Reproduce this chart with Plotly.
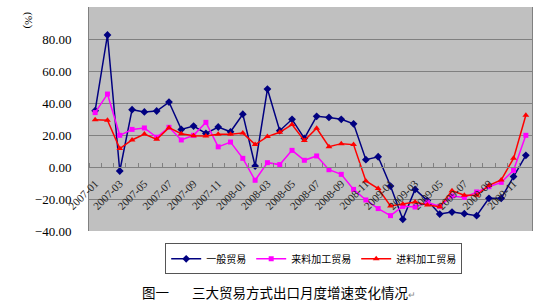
import plotly.graph_objects as go

months = [f"{y}-{m:02d}" for y in (2007, 2008, 2009) for m in range(1, 13)]
tick_labels = months[::2]

general = [35.2, 82.5, -2.5, 35.8, 34.4, 35.0, 40.6, 23.5, 25.6, 21.0, 25.0, 22.0,
           33.0, 0.6, 48.7, 22.7, 29.8, 17.9, 31.7, 31.0, 29.8, 27.0, 4.6, 6.4,
           -11.9, -32.7, -14.0, -21.0, -29.4, -28.2, -29.2, -30.4, -19.6, -19.6, -6.0, 7.3]
processing_supplied = [34.0, 45.6, 19.8, 23.5, 24.4, 18.6, 24.8, 16.9, 19.8, 27.9, 12.6, 15.6,
                       5.4, -8.3, 2.7, 1.5, 10.4, 4.2, 6.9, -1.7, -4.6, -14.0, -20.6, -26.0,
                       -30.4, -24.6, -25.0, -22.0, -24.6, -18.1, -19.0, -15.6, -12.3, -9.6, -2.1, 19.8]
processing_imported = [29.6, 29.2, 11.5, 16.9, 20.6, 17.3, 24.6, 20.8, 19.6, 19.4, 20.4, 20.4,
                       21.2, 14.0, 19.0, 21.7, 26.5, 16.5, 24.2, 12.7, 14.6, 14.0, -8.7, -13.5,
                       -24.4, -23.1, -21.9, -23.8, -24.8, -14.8, -17.7, -17.7, -11.5, -8.1, 5.4, 32.3]

series = [
    ("一般贸易", general, "#000080", "diamond", 6),
    ("来料加工贸易", processing_supplied, "#FF00FF", "square", 5),
    ("进料加工贸易", processing_imported, "#FF0000", "triangle-up", 6),
]

x = list(range(len(months)))
fig = go.Figure()
for name, vals, color, sym, size in series:
    fig.add_trace(go.Scatter(
        x=x, y=vals, name=name, mode="lines+markers",
        line=dict(color=color, width=1.5),
        marker=dict(symbol=sym, size=size, color=color),
    ))

y_min, y_max = -40, 100
fig.update_layout(
    width=555, height=302,
    margin=dict(l=89, r=23, t=7, b=71),
    paper_bgcolor="white",
    plot_bgcolor="#C0C0C0",
    font=dict(family="Liberation Serif", color="black"),
    showlegend=True,
    legend=dict(
        orientation="h", x=0.172, y=-0.055, xanchor="left", yanchor="top",
        bgcolor="white", bordercolor="#555555", borderwidth=1,
        font=dict(family="Noto Sans CJK SC", size=10),
        itemwidth=30, tracegroupgap=0,
    ),
    xaxis=dict(
        range=[-0.5, len(months) - 0.5],
        tickmode="array", tickvals=x[::2], ticktext=tick_labels,
        tickangle=-45, ticks="", ticklabelstandoff=5,
        tickfont=dict(family="Liberation Serif", size=11, color="#222222"),
        showgrid=False, zeroline=False,
        showline=True, linecolor="#808080", linewidth=1,
        anchor="free", position=(0 - y_min) / (y_max - y_min),
        minor=dict(ticks="inside", ticklen=4, tickcolor="#808080",
                   tickmode="linear", tick0=-0.5, dtick=1, showgrid=False),
    ),
    yaxis=dict(
        range=[y_min, y_max], dtick=20, tick0=-40, tickformat=".2f",
        tickfont=dict(family="Liberation Serif", size=13),
        showgrid=True, gridcolor="#808080", gridwidth=1,
        zeroline=False, showline=True, linecolor="#808080", mirror=True,
        ticks="", ticklabelstandoff=14,
    ),
    annotations=[
        dict(text="(%)", xref="paper", yref="paper", x=(20 - 89) / 443, y=(231 - 10) / 224,
             showarrow=False, textangle=90, font=dict(size=11, family="Liberation Serif")),
        dict(text="图一", xref="paper", yref="paper", x=(140 - 89) / 443, y=(231 - 292) / 224,
             xanchor="left", yanchor="middle", showarrow=False,
             font=dict(size=13.5, family="Noto Sans CJK SC")),
        dict(text="三大贸易方式出口月度增速变化情况<span style='font-size:9px;color:#888'>↵</span>",
             xref="paper", yref="paper", x=(190 - 89) / 443, y=(231 - 292) / 224,
             xanchor="left", yanchor="middle", showarrow=False,
             font=dict(size=13.5, family="Noto Sans CJK SC")),
    ],
)

fig.write_html("out.html")
